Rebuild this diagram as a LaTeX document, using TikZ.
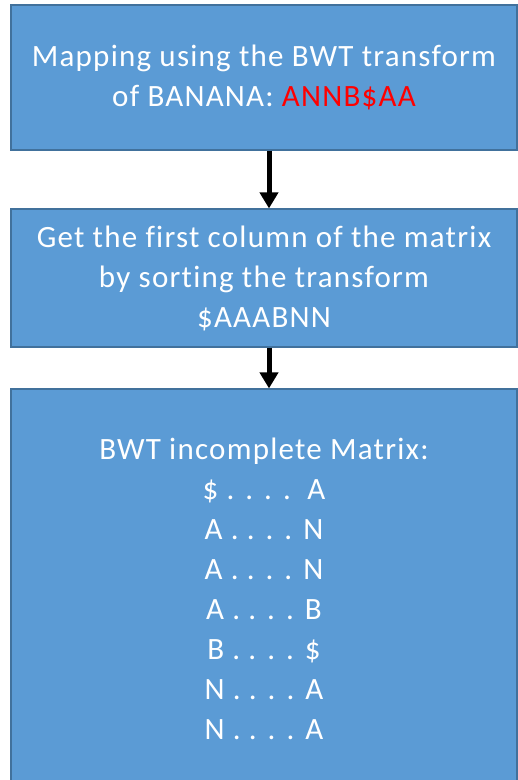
\documentclass[tikz,border=0pt]{standalone}
\usepackage{fontspec}
\setmainfont{Carlito}[Ligatures=NoCommon, LetterSpace=4]
\usetikzlibrary{arrows.meta}
\definecolor{boxfill}{HTML}{5B9BD5}
\definecolor{boxline}{HTML}{41719C}
\definecolor{bwtred}{HTML}{FF0000}
\begin{document}
\begin{tikzpicture}[x=1pt,y=-1pt,
  stage/.style={draw=boxline, line width=1.2pt, fill=boxfill, text=white,
    align=center, minimum width=506pt, inner sep=0pt,
    font=\fontsize{31}{40}\selectfont},
  flow/.style={line width=5pt, -{Triangle[width=18pt,length=16pt]}}]
\useasboundingbox (0,0) rectangle (518,780);
\node[stage, minimum height=145pt] (b1) at (264,77.5)
  {Mapping using the BWT transform\\of BANANA: \textcolor{bwtred}{ANNB\$AA}};
\node[stage, minimum height=138pt] (b2) at (264,278)
  {Get the first column of the matrix\\by sorting the transform\\\$AAABNN};
\node[stage, minimum height=400pt] (b3) at (264,589)
  {BWT incomplete Matrix:\\\$ . . . .\ \ A\\A . . . . N\\A . . . . N\\A . . . . B\\B . . . . \$\\N . . . . A\\N . . . . A};
\draw[flow] (b1.south -| 269,0) -- (b2.north -| 269,0);
\draw[flow] (b2.south -| 269,0) -- (b3.north -| 269,0);
\end{tikzpicture}
\end{document}
